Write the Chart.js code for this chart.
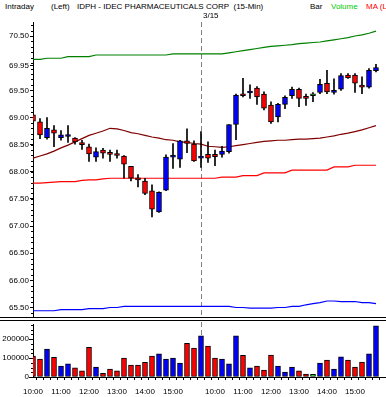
<!DOCTYPE html>
<html>
<head>
<meta charset="utf-8">
<script src="https://cdn.jsdelivr.net/npm/chart.js@4.4.0/dist/chart.umd.min.js"></script>
<style>
  body { margin: 0; background: #fff; }
  #wrap { position: relative; width: 386px; height: 397px; overflow: hidden;
          font-family: "Liberation Sans", Arial, sans-serif; font-size: 8px; color: #000; }
  .hd { position: absolute; top: 2px; white-space: nowrap; line-height: 9px; }
  canvas { position: absolute; left: 0; }
  .rule { position: absolute; left: 0; width: 386px; height: 1px; background: #000; }
</style>
</head>
<body>
<div id="wrap">
  <span class="hd" style="left:5px">Intraday</span>
  <span class="hd" style="left:51px">(Left)</span>
  <span class="hd" style="left:77px">IDPH - IDEC PHARMACEUTICALS CORP&nbsp; (15-Min)</span>
  <span class="hd" style="left:310px">Bar</span>
  <span class="hd" style="left:331px;color:#00cc00">Volume</span>
  <span class="hd" style="left:366px;color:#ff0000">MA (Left)</span>
  <canvas id="price" width="386" height="318" style="top:0"></canvas>
  <div class="rule" style="top:317px"></div>
  <div class="rule" style="top:320px"></div>
  <canvas id="vol" width="386" height="75" style="top:322px"></canvas>
</div>
<script>
// 15-min bars, two sessions (3/14 from 10:00, 3/15 from 9:30)
const times = [
  '10:00','10:15','10:30','10:45','11:00','11:15','11:30','11:45','12:00','12:15','12:30','12:45',
  '13:00','13:15','13:30','13:45','14:00','14:15','14:30','14:45','15:00','15:15','15:30','15:45',
  '9:30','9:45','10:00','10:15','10:30','10:45','11:00','11:15','11:30','11:45','12:00','12:15','12:30',
  '12:45','13:00','13:15','13:30','13:45','14:00','14:15','14:30','14:45','15:00','15:15','15:30','15:45'
];
const dayBreak = 24;
const dayLabel = '3/15';

const opens = [
  69.05, 68.92, 68.63, 68.77, 68.63, 68.65, 68.62, 68.52, 68.46, 68.27, 68.40, 68.33,
  68.31, 68.29, 68.10, 67.88, 67.83, 67.65, 67.26, 67.66, 68.27, 68.23, 68.57, 68.51,
  68.25, 68.32, 68.32, 68.32, 68.37, 68.87, 69.42, 69.45, 69.54, 69.43, 69.23, 69.01, 69.24,
  69.40, 69.52, 69.36, 69.40, 69.46, 69.63, 69.46, 69.52, 69.78, 69.78, 69.57, 69.56, 69.86
];
const highs = [
  69.05, 68.98, 69.00, 68.85, 68.76, 68.85, 68.63, 68.58, 68.51, 68.44, 68.43, 68.40,
  68.40, 68.30, 68.10, 67.95, 67.88, 67.76, 67.63, 68.31, 68.52, 68.58, 68.79, 68.57,
  68.74, 68.55, 68.40, 68.47, 68.87, 69.43, 69.72, 69.60, 69.57, 69.47, 69.29, 69.26, 69.40,
  69.56, 69.54, 69.43, 69.46, 69.70, 69.87, 69.71, 69.81, 69.81, 69.81, 69.75, 69.90, 69.98
];
const lows = [
  68.36, 68.61, 68.60, 68.46, 68.58, 68.54, 68.51, 68.41, 68.19, 68.19, 68.25, 68.19,
  68.25, 67.88, 67.83, 67.72, 67.58, 67.17, 67.25, 67.65, 68.06, 68.08, 68.35, 68.19,
  68.08, 68.17, 68.11, 68.27, 68.34, 68.59, 69.38, 69.35, 69.24, 69.14, 68.89, 68.92, 69.16,
  69.35, 69.20, 69.22, 69.29, 69.44, 69.44, 69.43, 69.50, 69.72, 69.46, 69.44, 69.54, 69.84
];
const closes = [
  68.93, 68.68, 68.80, 68.71, 68.68, 68.67, 68.55, 68.50, 68.33, 68.37, 68.34, 68.32,
  68.30, 68.14, 67.88, 67.85, 67.60, 67.31, 67.62, 68.27, 68.29, 68.57, 68.52, 68.20,
  68.27, 68.25, 68.28, 68.38, 68.87, 69.41, 69.40, 69.47, 69.38, 69.17, 68.92, 69.24, 69.37,
  69.52, 69.35, 69.35, 69.40, 69.61, 69.47, 69.50, 69.77, 69.73, 69.63, 69.56, 69.87, 69.92
];
const volumes = [
  110000, 95000, 148000, 104000, 58000, 69000, 48000, 32000, 157000, 53000, 20000, 42000,
  32000, 100000, 63000, 63000, 78000, 110000, 122000, 95000, 100000, 74000, 178000, 153000,
  217000, 164000, 100000, 95000, 69000, 217000, 115000, 48000, 58000, 37000, 116000, 58000, 26000,
  53000, 32000, 16000, 14000, 74000, 90000, 42000, 106000, 90000, 53000, 79000, 122000, 270000
];

// overlay lines
const upperBand = [
  70.07, 70.07, 70.09, 70.09, 70.09, 70.12, 70.12, 70.12, 70.12, 70.15, 70.15, 70.15,
  70.15, 70.15, 70.15, 70.15, 70.15, 70.15, 70.15, 70.15, 70.17, 70.17, 70.17, 70.17,
  70.17, 70.17, 70.17, 70.17, 70.19, 70.21, 70.23, 70.25, 70.27, 70.29, 70.31, 70.32, 70.33,
  70.34, 70.36, 70.37, 70.38, 70.39, 70.41, 70.43, 70.45, 70.47, 70.50, 70.52, 70.55, 70.59
];
const longMA = [
  67.79, 67.79, 67.80, 67.81, 67.82, 67.82, 67.82, 67.84, 67.85, 67.85, 67.87, 67.88,
  67.88, 67.88, 67.88, 67.88, 67.88, 67.88, 67.88, 67.88, 67.88, 67.88, 67.88, 67.88,
  67.88, 67.88, 67.88, 67.90, 67.90, 67.90, 67.93, 67.93, 67.93, 67.98, 67.98, 67.98, 67.98,
  68.03, 68.03, 68.03, 68.03, 68.03, 68.03, 68.09, 68.09, 68.09, 68.12, 68.12, 68.12, 68.12
];
const shortMA = [
  68.25, 68.29, 68.33, 68.38, 68.44, 68.49, 68.55, 68.61, 68.67, 68.71, 68.75, 68.80,
  68.79, 68.76, 68.72, 68.70, 68.67, 68.64, 68.62, 68.59, 68.58, 68.55, 68.54, 68.52,
  68.51, 68.47, 68.46, 68.45, 68.46, 68.48, 68.50, 68.52, 68.54, 68.56, 68.57, 68.58, 68.58,
  68.59, 68.60, 68.60, 68.61, 68.62, 68.64, 68.66, 68.69, 68.71, 68.74, 68.77, 68.81, 68.85
];
const lowerBand = [
  65.44, 65.44, 65.44, 65.44, 65.46, 65.46, 65.46, 65.46, 65.48, 65.48, 65.48, 65.50,
  65.50, 65.52, 65.52, 65.52, 65.52, 65.52, 65.52, 65.52, 65.52, 65.52, 65.52, 65.52,
  65.52, 65.52, 65.52, 65.52, 65.52, 65.50, 65.50, 65.49, 65.49, 65.49, 65.49, 65.50, 65.50,
  65.52, 65.52, 65.55, 65.57, 65.59, 65.62, 65.62, 65.61, 65.61, 65.61, 65.59, 65.59, 65.57
];

const priceTicks = [70.50, 69.95, 69.50, 69.00, 68.50, 68.00, 67.50, 67.00, 66.50, 66.00, 65.50];
const volTicks = [0, 100000, 200000];

const FONT = { family: '"Liberation Sans", Arial, sans-serif', size: 8 };
const idx = times.map((t, i) => i);
const xMax = times.length + 0.43;

function barColor(i) {
  if (closes[i] > opens[i]) return '#0000ff';
  if (closes[i] < opens[i]) return '#ff0000';
  return '#00ff00';
}

function maLine(values, color) {
  return {
    type: 'line',
    data: values.map((v, i) => ({ x: i, y: v })),
    borderColor: color,
    borderWidth: 1.2,
    pointRadius: 0,
    tension: 0,
    fill: false,
    order: 3
  };
}

function drawSeparator(chart, fromY, toY) {
  const { ctx, scales: { x } } = chart;
  const sx = Math.round(x.getPixelForValue(dayBreak)) + 0.5;
  ctx.save();
  ctx.strokeStyle = '#808080';
  ctx.lineWidth = 1;
  ctx.setLineDash([5, 3]);
  ctx.beginPath();
  ctx.moveTo(sx, fromY);
  ctx.lineTo(sx, toY);
  ctx.stroke();
  ctx.restore();
  return sx;
}

function drawMinorTicks(chart, from, to, step) {
  const { ctx, chartArea, scales: { y } } = chart;
  ctx.save();
  ctx.strokeStyle = '#000';
  ctx.lineWidth = 1;
  for (let v = from; v <= to + 1e-9; v += step) {
    const py = Math.round(y.getPixelForValue(v)) + 0.5;
    if (py < chartArea.top || py > chartArea.bottom) continue;
    ctx.beginPath();
    ctx.moveTo(chartArea.left - 2, py);
    ctx.lineTo(chartArea.left, py);
    ctx.stroke();
  }
  ctx.restore();
}

const priceDecor = {
  id: 'priceDecor',
  beforeDatasetsDraw(chart) {
    drawSeparator(chart, chart.chartArea.top, chart.height);
  },
  afterDraw(chart) {
    drawMinorTicks(chart, 65.4, 70.7, 0.1);
    const { ctx, scales: { x } } = chart;
    const sx = Math.round(x.getPixelForValue(dayBreak));
    ctx.save();
    ctx.font = '8px "Liberation Sans", Arial, sans-serif';
    ctx.fillStyle = '#000';
    ctx.textBaseline = 'middle';
    ctx.fillText(dayLabel, sx + 2, 16);
    ctx.restore();
  }
};

const volDecor = {
  id: 'volDecor',
  beforeDatasetsDraw(chart) {
    drawSeparator(chart, 0, chart.chartArea.bottom);
  },
  afterDraw(chart) {
    drawMinorTicks(chart, 25000, 275000, 25000);
  }
};

const yAxisFit = (s) => { s.width = 33; s.paddingTop = 0; s.paddingBottom = 0; };

new Chart(document.getElementById('price'), {
  type: 'bar',
  data: {
    datasets: [
      maLine(upperBand, '#008000'),
      maLine(longMA, '#ff0000'),
      maLine(shortMA, '#800000'),
      maLine(lowerBand, '#0000ff'),
      {
        type: 'bar',
        data: idx.map(i => ({ x: i, y: [lows[i], highs[i]] })),
        backgroundColor: '#000',
        borderWidth: 0,
        barThickness: 1,
        grouped: false,
        order: 2
      },
      {
        type: 'bar',
        data: idx.map(i => ({ x: i, y: [opens[i], closes[i]] })),
        backgroundColor: idx.map(barColor),
        borderColor: '#000',
        borderWidth: 1,
        borderSkipped: false,
        barThickness: 5,
        minBarLength: 2,
        grouped: false,
        order: 1
      }
    ]
  },
  options: {
    responsive: false,
    animation: false,
    events: [],
    layout: { padding: { top: 22, bottom: 1, left: 0, right: 0 } },
    plugins: { legend: { display: false }, tooltip: { enabled: false } },
    scales: {
      x: { type: 'linear', min: 0, max: xMax, offset: false, display: false },
      y: {
        position: 'left',
        min: 65.325,
        max: 70.758,
        afterBuildTicks: s => { s.ticks = priceTicks.map(v => ({ value: v })); },
        afterFit: yAxisFit,
        ticks: { autoSkip: false, font: FONT, color: '#000', padding: 1, callback: v => v.toFixed(2) },
        grid: { drawOnChartArea: false, tickLength: 3, color: '#000' },
        border: { color: '#000' }
      }
    }
  },
  plugins: [priceDecor]
});

new Chart(document.getElementById('vol'), {
  type: 'bar',
  data: {
    datasets: [{
      data: idx.map(i => ({ x: i, y: volumes[i] })),
      backgroundColor: idx.map(barColor),
      borderColor: '#000',
      borderWidth: 1,
      borderSkipped: false,
      barThickness: 5,
      grouped: false
    }]
  },
  options: {
    responsive: false,
    animation: false,
    events: [],
    layout: { padding: { top: 2, bottom: 0, left: 0, right: 0 } },
    plugins: { legend: { display: false }, tooltip: { enabled: false } },
    scales: {
      x: {
        type: 'linear', min: 0, max: xMax, offset: false,
        afterBuildTicks: s => { s.ticks = idx.map(i => ({ value: i })); },
        afterFit: s => { s.height = 20; s.paddingLeft = 0; s.paddingRight = 0; },
        ticks: {
          autoSkip: false, maxRotation: 0, font: FONT, color: '#000', padding: 7,
          callback: v => (times[v] && times[v].endsWith(':00')) ? times[v] : ''
        },
        grid: { drawOnChartArea: false, tickLength: 3, color: '#000' },
        border: { color: '#000' }
      },
      y: {
        position: 'left',
        min: 0,
        max: 280000,
        afterBuildTicks: s => { s.ticks = volTicks.map(v => ({ value: v })); },
        afterFit: yAxisFit,
        ticks: { autoSkip: false, font: FONT, color: '#000', padding: 0, callback: v => String(v) },
        grid: { drawOnChartArea: false, tickLength: 4, color: '#000' },
        border: { color: '#000' }
      }
    }
  },
  plugins: [volDecor]
});
</script>
</body>
</html>
